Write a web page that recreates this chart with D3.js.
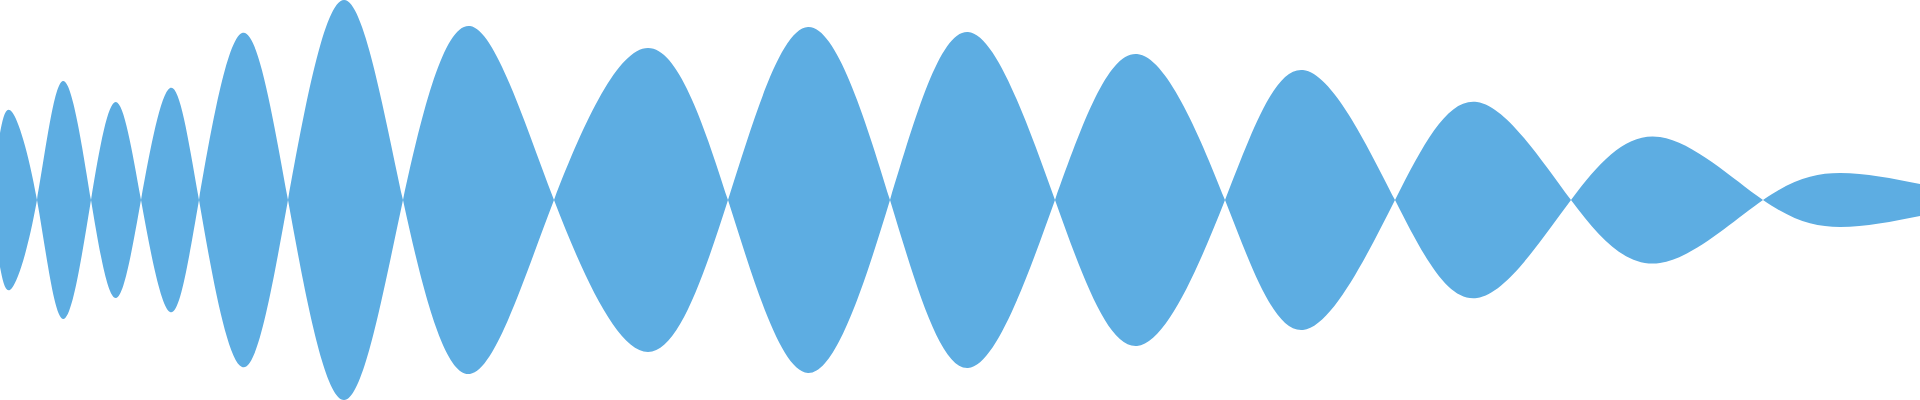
<!DOCTYPE html>
<html>
<head>
<meta charset="utf-8">
<script src="https://cdn.jsdelivr.net/npm/d3@7"></script>
<style>
  body { margin: 0; background: #fff; }
  svg { display: block; }
</style>
</head>
<body>
<svg id="wave" width="1920" height="400"></svg>
<script>
// sample positions and signed amplitude at peaks / zero crossings
var times = [0, 12, 37, 63, 91, 116, 141, 170, 199, 242, 288, 344, 403, 470, 554, 648,
             728, 808, 890, 968, 1055, 1137, 1225, 1303, 1395, 1477, 1571, 1660, 1763, 1840, 1920];
var amplitudes = [67, 88, 0, -119, 0, 98, 0, -112, 0, 167, 0, -200, 0, 174, 0, -152,
                  0, 173, 0, -168, 0, 146, 0, -130, 0, 98, 0, -63, 0, 27, 16];

var svg = d3.select("#wave"),
    width = +svg.attr("width"),
    height = +svg.attr("height");

var data = times.map(function(t, i) { return {t: t, v: amplitudes[i]}; });

var x = d3.scaleLinear().domain([0, 1920]).range([0, width]),
    y = d3.scaleLinear().domain([-200, 200]).range([height, 0]);

var area = d3.area()
    .curve(d3.curveNatural)
    .x(function(d) { return x(d.t); })
    .y0(function(d) { return y(-d.v); })
    .y1(function(d) { return y(d.v); });

svg.append("path")
    .datum(data)
    .attr("fill", "#5dade2")
    .attr("d", area);
</script>
</body>
</html>
